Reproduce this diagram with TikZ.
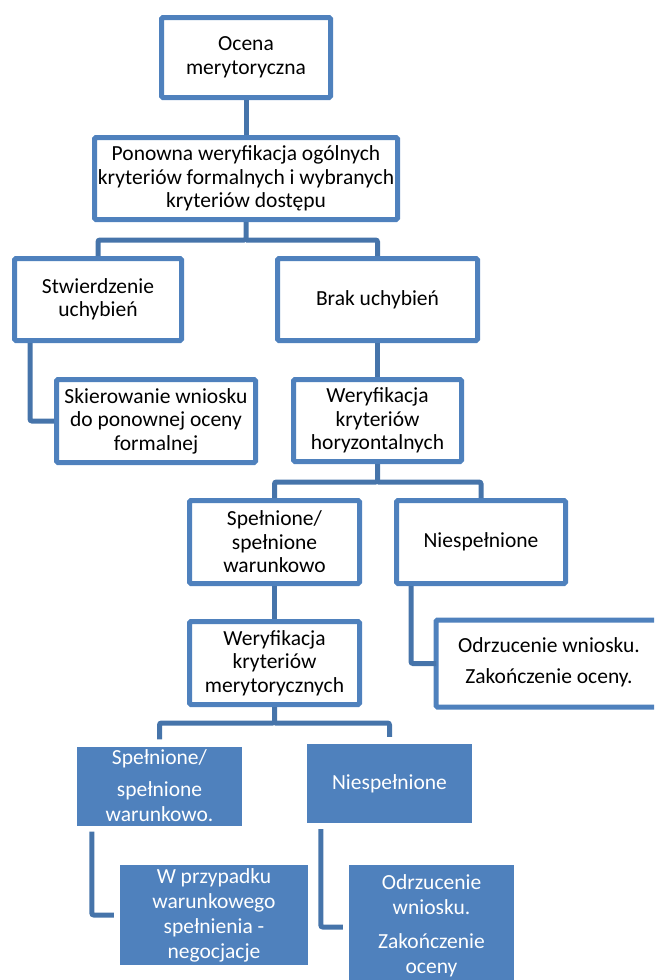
\documentclass[tikz,border=0pt]{standalone}
\usepackage{fontspec}
\setmainfont{Carlito}
\definecolor{boxblue}{HTML}{4F81BD}
\definecolor{linkblue}{HTML}{4674AA}
\begin{document}
\begin{tikzpicture}[x=1pt,y=-1pt,
  wbox/.style={draw=boxblue,line width=5pt,fill=white,rounded corners=1.5pt,align=center,inner sep=0pt,
    font=\fontsize{21.5}{23.5}\selectfont,text=black},
  openbox/.style={wbox,draw=none},
  boxedge/.style={draw=boxblue,line width=5pt,rounded corners=1.5pt},
  filledbox/.style={fill=boxblue,draw=none,align=center,inner sep=0pt,
    font=\fontsize{21.5}{25}\selectfont,text=white},
  link/.style={draw=linkblue,line width=5pt,rounded corners=2pt}]
\useasboundingbox (0,0) rectangle (654,980);
\clip (0,0) rectangle (654,980);

% white boxes
\node[wbox,minimum width=169pt,minimum height=80pt] (A) at (246,57.5) {Ocena\\merytoryczna};
\node[wbox,minimum width=303pt,minimum height=82pt] (B) at (246,178.5) {Ponowna weryfikacja ogólnych\\kryteriów formalnych i wybranych\\kryteriów dostępu};
\node[wbox,minimum width=167pt,minimum height=82pt] (C) at (98,299.5) {Stwierdzenie\\uchybień};
\node[wbox,minimum width=200pt,minimum height=82pt] (D) at (377.5,299.5) {Brak uchybień};
\node[wbox,minimum width=199pt,minimum height=83pt] (E) at (156,421) {Skierowanie wniosku\\do ponownej oceny\\formalnej};
\node[wbox,minimum width=168pt,minimum height=82pt] (F) at (377.5,420.5) {Weryfikacja\\kryteriów\\horyzontalnych};
\node[wbox,minimum width=170pt,minimum height=83pt] (G) at (274.5,542) {Spełnione/\\spełnione\\warunkowo};
\node[wbox,minimum width=169pt,minimum height=83pt] (H) at (481,542) {Niespełnione};
\node[wbox,minimum width=170pt,minimum height=83pt] (I) at (274.5,663) {Weryfikacja\\kryteriów\\merytorycznych};
% box cut by the right edge of the picture: only its top, left and bottom sides show
\node[openbox,minimum width=281pt,minimum height=82pt,align=left] (J) at (579,663.5)
  {\begin{tabular}{@{}c@{}}Odrzucenie wniosku.\\[8pt]Zakończenie oceny.\end{tabular}\hspace*{60pt}};
\draw[boxedge] (J.north east) -- (J.north west) -- (J.south west) -- (J.south east);

% filled boxes
\node[filledbox,minimum width=165pt,minimum height=79pt] (K) at (159.5,786) {Spełnione/\\[7pt]spełnione\\warunkowo.};
\node[filledbox,minimum width=165pt,minimum height=79pt] (L) at (389.5,783.5) {Niespełnione};
\node[filledbox,minimum width=188pt,minimum height=100pt] (M) at (214,915) {W przypadku\\warunkowego\\spełnienia -\\negocjacje};
\node[filledbox,anchor=north,minimum width=165pt,inner ysep=9pt,text depth=30pt] (N) at (431.5,865) {Odrzucenie\\wniosku.\\[9pt]Zakończenie\\oceny};

% connectors
\draw[link] (A.south) -- (B.north);
\coordinate (bj) at (246,240);
\draw[link] (B.south) -- (bj) -| (C.north);
\draw[link] (bj) -| (D.north);
\draw[link] ([xshift=18pt]C.south west) |- (E.west);
\draw[link] (D.south) -- (F.north);
\coordinate (fj) at (377.5,482);
\draw[link] (F.south) -- (fj) -| (G.north);
\draw[link] (fj) -| (H.north);
\draw[link] (G.south) -- (I.north);
\draw[link] ([xshift=17pt]H.south west) |- (J.west);
\coordinate (ij) at (274.5,723);
\draw[link,shorten >=7pt] (I.south) -- (ij) -| (K.north);
\draw[link,shorten >=7pt] (ij) -| (L.north);
\draw[link,shorten <=6pt,shorten >=6pt] ([xshift=15pt]K.south west) |- (M.west);
\draw[link,shorten <=6pt,shorten >=6pt] ([xshift=14pt]L.south west) |- ([yshift=-62pt]N.north west);
\end{tikzpicture}
\end{document}
